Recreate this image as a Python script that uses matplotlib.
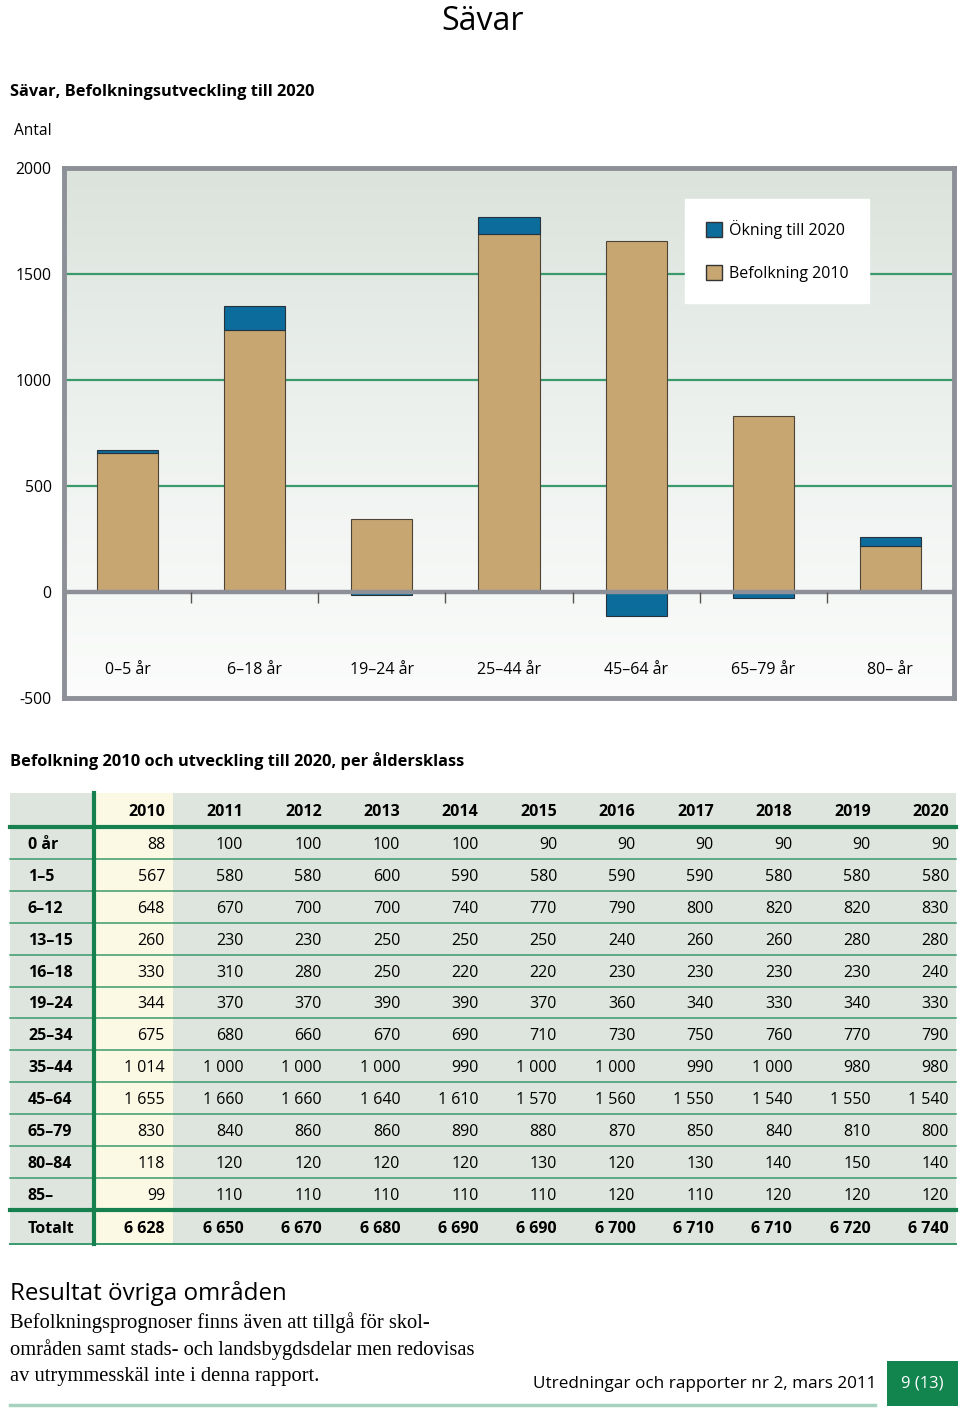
import numpy as np
import matplotlib.pyplot as plt
from matplotlib.patches import Rectangle, Patch
from matplotlib.colors import LinearSegmentedColormap

plt.rcParams['font.family'] = ['Open Sans', 'DejaVu Sans']

# table data (Befolkning 2010 och utveckling till 2020)
years = [2010, 2011, 2012, 2013, 2014, 2015, 2016, 2017, 2018, 2019, 2020]
age_rows = ["0 år", "1–5", "6–12", "13–15", "16–18", "19–24",
            "25–34", "35–44", "45–64", "65–79", "80–84", "85–"]
r_0ar = [88, 100, 100, 100, 100, 90, 90, 90, 90, 90, 90]
r_1_5 = [567, 580, 580, 600, 590, 580, 590, 590, 580, 580, 580]
r_6_12 = [648, 670, 700, 700, 740, 770, 790, 800, 820, 820, 830]
r_13_15 = [260, 230, 230, 250, 250, 250, 240, 260, 260, 280, 280]
r_16_18 = [330, 310, 280, 250, 220, 220, 230, 230, 230, 230, 240]
r_19_24 = [344, 370, 370, 390, 390, 370, 360, 340, 330, 340, 330]
r_25_34 = [675, 680, 660, 670, 690, 710, 730, 750, 760, 770, 790]
r_35_44 = [1014, 1000, 1000, 1000, 990, 1000, 1000, 990, 1000, 980, 980]
r_45_64 = [1655, 1660, 1660, 1640, 1610, 1570, 1560, 1550, 1540, 1550, 1540]
r_65_79 = [830, 840, 860, 860, 890, 880, 870, 850, 840, 810, 800]
r_80_84 = [118, 120, 120, 120, 120, 130, 120, 130, 140, 150, 140]
r_85 = [99, 110, 110, 110, 110, 110, 120, 110, 120, 120, 120]
totals = [6628, 6650, 6670, 6680, 6690, 6690, 6700, 6710, 6710, 6720, 6740]

# chart groups -> which table rows they sum
groups = ["0–5 år", "6–18 år", "19–24 år", "25–44 år", "45–64 år", "65–79 år", "80– år"]
group_rows = [[0, 1], [2, 3, 4], [5], [6, 7], [8], [9], [10, 11]]

rows = [r_0ar, r_1_5, r_6_12, r_13_15, r_16_18, r_19_24,
        r_25_34, r_35_44, r_45_64, r_65_79, r_80_84, r_85]
arr = np.array(rows)
base = np.array([arr[g, 0].sum() for g in group_rows])
change = np.array([arr[g, -1].sum() for g in group_rows]) - base

tan = '#c7a671'
blue = '#0c6c9c'
green = '#3a9a6c'
frame = '#8e9097'

W, H = 960, 1410
fig = plt.figure(figsize=(9.6, 14.1), dpi=100)
page = fig.add_axes([0, 0, 1, 1])
page.set_xlim(0, W)
page.set_ylim(H, 0)
page.axis('off')

page.text(483, 30, "Sävar", ha='center', va='baseline', fontsize=23)
page.text(10, 92, "Sävar, Befolkningsutveckling till 2020", fontsize=11.8,
          fontweight='bold', va='center')
page.text(14, 131, "Antal", fontsize=11.2, va='center')

# ---- chart ----
ax = fig.add_axes([64/W, 1-698/H, 890/W, 530/H])
ax.set_xlim(-0.5, 6.5)
ax.set_ylim(-500, 2000)
bg = LinearSegmentedColormap.from_list('bg', ['#dbe3dc', '#eef2ef', '#fbfcfb'])
ax.imshow(np.linspace(0, 1, 256).reshape(-1, 1), extent=[-0.5, 6.5, -500, 2000],
          aspect='auto', cmap=bg, origin='upper', zorder=0)
ax.hlines([500, 1000, 1500], -0.5, 6.5, color=green, lw=1.6, zorder=1)

x = np.arange(len(groups))
ax.bar(x, base, width=0.48, color=tan, edgecolor='#4d4437', lw=0.8, zorder=2)
bottom = np.where(change > 0, base, 0)
ax.bar(x, change, bottom=bottom, width=0.48, color=blue, edgecolor='#26333d',
       lw=0.8, zorder=2)
ax.axhline(0, color=frame, lw=3.2, zorder=3)
ax.vlines(np.arange(0.5, 6.5), -50, 0, color='#555555', lw=1, zorder=3)

for i, g in enumerate(groups):
    ax.text(i, -370, g, ha='center', va='center', fontsize=11.5)

ax.set_xticks([])
ax.set_yticks([-500, 0, 500, 1000, 1500, 2000])
ax.set_yticklabels(["-500", "0", "500", "1000", "1500", "2000"])
ax.tick_params(axis='y', length=0, pad=9, labelsize=11.3)
for s in ax.spines.values():
    s.set_color(frame)
    s.set_linewidth(3.5)

ax.legend(handles=[Patch(fc=blue, ec='#333333', label='Ökning till 2020'),
                   Patch(fc=tan, ec='#333333', label='Befolkning 2010')],
          loc='upper left', bbox_to_anchor=(685/W, 1-199/H),
          bbox_transform=fig.transFigure, frameon=True, fancybox=False,
          edgecolor='white', facecolor='white', framealpha=1, fontsize=11.5,
          handlelength=1.0, handleheight=1.05, borderpad=1.3, labelspacing=1.65,
          handletextpad=0.45, borderaxespad=0)

# ---- table ----
page.text(10, 761, "Befolkning 2010 och utveckling till 2020, per åldersklass",
          fontsize=11.8, fontweight='bold', va='center')

t_left, t_right = 10, 956
t_top, head_bot = 793, 827
row_h = 31.9
tot_top = head_bot + row_h*len(age_rows)
t_bot = tot_top + 34
page.add_patch(Rectangle((t_left, t_top), t_right-t_left, t_bot-t_top,
                         fc='#dde5de', ec='none'))
page.add_patch(Rectangle((95, t_top), 78, t_bot-t_top, fc='#fbf9e4', ec='none'))

col_right = [165 + 78.4*j for j in range(len(years))]
fmt = lambda v: f"{v:,}".replace(",", " ")
dy = 2

yc = (t_top + head_bot)/2 + dy
for j, yr in enumerate(years):
    page.text(col_right[j], yc, str(yr), ha='right', va='center',
              fontsize=11.5, fontweight='bold')

for i, (lab, vals) in enumerate(zip(age_rows, rows)):
    yc = head_bot + row_h*(i + 0.5) + dy
    page.text(28, yc, lab, ha='left', va='center', fontsize=11.5, fontweight='bold')
    for j, v in enumerate(vals):
        page.text(col_right[j], yc, fmt(v), ha='right', va='center', fontsize=11.5)
    if i > 0:
        page.plot([t_left, t_right], [head_bot + row_h*i]*2, color=green, lw=1.1)

yc = (tot_top + t_bot)/2 + dy
page.text(28, yc, "Totalt", ha='left', va='center', fontsize=11.5, fontweight='bold')
for j, v in enumerate(totals):
    page.text(col_right[j], yc, fmt(v), ha='right', va='center',
              fontsize=11.5, fontweight='bold')

page.plot([t_left, t_right], [head_bot]*2, color='#16814e', lw=3)
page.plot([t_left, t_right], [tot_top]*2, color='#16814e', lw=3)
page.plot([t_left, t_right], [t_bot]*2, color=green, lw=1.4)
page.plot([94, 94], [t_top, t_bot], color='#16814e', lw=3)

# ---- footer ----
page.text(10, 1293, "Resultat övriga områden", fontsize=17.4, va='center')
body = ["Befolkningsprognoser finns även att tillgå för skol-",
        "områden samt stads- och landsbygdsdelar men redovisas",
        "av utrymmesskäl inte i denna rapport."]
for k, line in enumerate(body):
    page.text(10, 1323 + 27*k, line, fontsize=14.8, va='center',
              family=['Liberation Serif', 'DejaVu Serif'])

page.text(876, 1384, "Utredningar och rapporter nr 2, mars 2011", ha='right',
          va='center', fontsize=12.3)
page.add_patch(Rectangle((887, 1361), 71, 45, fc='#12854f', ec='none'))
page.text(922, 1384, "9 (13)", ha='center', va='center', fontsize=12, color='white')
page.plot([10, 875], [1405, 1405], color='#a8d2c0', lw=2.5)

fig.savefig('out.png', dpi=100)
